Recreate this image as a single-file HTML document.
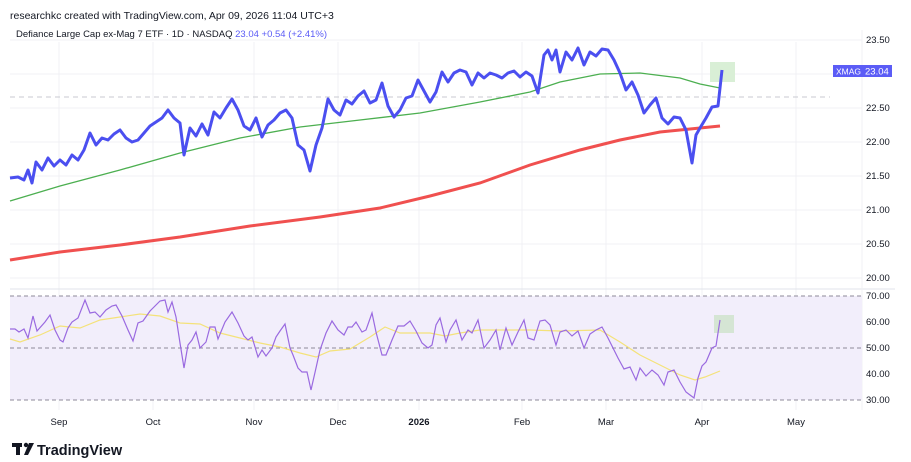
<!DOCTYPE html>
<html><head><meta charset="utf-8"><style>
body{margin:0;background:#fff;width:911px;height:462px;overflow:hidden;font-family:"Liberation Sans",sans-serif}
svg{position:absolute;left:0;top:0}
</style></head><body>
<svg width="911" height="462" viewBox="0 0 911 462" font-family="Liberation Sans, sans-serif">
<rect width="911" height="462" fill="#fff"/>
<text x="10" y="19" font-size="10.5" fill="#131722">researchkc created with TradingView.com, Apr 09, 2026 11:04 UTC+3</text>
<text x="16" y="37" font-size="9.5" fill="#131722">Defiance Large Cap ex-Mag 7 ETF · 1D · NASDAQ <tspan fill="#5b5cf6">23.04  +0.54 (+2.41%)</tspan></text>
<g stroke="#f0f1f4" stroke-width="1">
<line x1="59" y1="42" x2="59" y2="410"/><line x1="153" y1="42" x2="153" y2="410"/><line x1="254" y1="42" x2="254" y2="410"/><line x1="338" y1="42" x2="338" y2="410"/><line x1="419" y1="42" x2="419" y2="410"/><line x1="522" y1="42" x2="522" y2="410"/><line x1="606" y1="42" x2="606" y2="410"/><line x1="702" y1="42" x2="702" y2="410"/><line x1="796" y1="42" x2="796" y2="410"/>
<line x1="10" y1="40" x2="862" y2="40"/><line x1="10" y1="74" x2="862" y2="74"/><line x1="10" y1="108" x2="862" y2="108"/><line x1="10" y1="142" x2="862" y2="142"/><line x1="10" y1="176" x2="862" y2="176"/><line x1="10" y1="210" x2="862" y2="210"/><line x1="10" y1="244" x2="862" y2="244"/><line x1="10" y1="278" x2="862" y2="278"/>
</g>
<line x1="10" y1="289" x2="895" y2="289" stroke="#e0e3eb"/>
<line x1="862" y1="30" x2="862" y2="410" stroke="#f0f1f4"/>
<g font-size="9.5" fill="#131722" text-anchor="start">
<text x="866" y="43">23.50</text><text x="866" y="111">22.50</text><text x="866" y="145">22.00</text><text x="866" y="179">21.50</text><text x="866" y="213">21.00</text><text x="866" y="247">20.50</text><text x="866" y="281">20.00</text>
</g>
<rect x="833" y="65" width="29" height="12" fill="#5b5cf6"/><rect x="862" y="65" width="30" height="12" fill="#5b5cf6"/>
<text x="836" y="74.5" font-size="8.5" fill="#fff">XMAG</text><text x="865" y="74.5" font-size="9.5" fill="#fff">23.04</text>
<line x1="10" y1="97" x2="830" y2="97" stroke="#c8cad0" stroke-dasharray="5,4"/>
<rect x="710" y="62" width="25" height="20" fill="#d9efd6"/>
<polyline fill="none" stroke="#f0504f" stroke-width="3" points="10,260 60,252 120,245 180,237 250,226 320,217 380,208 430,196 480,183 530,165 580,150 620,140 660,132 700,128 720,126"/>
<polyline fill="none" stroke="#4caf50" stroke-width="1.3" points="10,201 60,186 120,170 180,153 240,138 300,127 360,120 420,113 480,102 530,92 560,82 600,74 640,73 680,78 700,84 720,88"/>
<polyline fill="none" stroke="#4b4ff0" stroke-width="3" stroke-linejoin="round" points="10,178 18,177 24,180 28,170 32,183 36,162 42,170 48,158 54,166 60,160 66,165 72,155 78,160 84,150 90,133 96,145 102,138 108,140 114,134 120,130 126,138 132,142 138,140 144,133 150,126 156,122 162,118 168,110 174,118 180,123 184,155 190,128 196,136 202,124 208,135 214,112 220,118 226,108 232,99 238,110 244,126 250,130 256,118 262,137 268,125 274,120 280,113 286,110 292,118 298,145 304,150 310,171 316,145 322,128 328,99 334,110 340,115 346,100 352,104 358,96 364,91 370,103 376,100 382,83 388,106 394,117 400,110 406,98 412,96 418,80 424,91 430,102 436,92 442,72 448,82 454,73 460,70 466,72 472,85 478,73 484,78 490,73 496,75 502,78 508,73 514,71 520,77 526,72 532,76 538,93 544,55 548,50 552,60 556,50 560,72 566,52 572,60 578,48 584,65 590,52 596,56 602,49 608,50 614,60 620,73 626,90 632,82 638,95 644,113 650,105 656,98 662,118 668,124 674,117 680,118 686,130 692,163 696,135 700,128 706,118 712,107 718,106 722,70"/>
<rect x="10" y="296" width="852" height="104" fill="#f2eefb"/>
<g stroke="#8e8a99" stroke-dasharray="4,3"><line x1="10" y1="296" x2="862" y2="296"/><line x1="10" y1="348" x2="862" y2="348"/><line x1="10" y1="400" x2="862" y2="400"/></g>
<g font-size="9.5" fill="#131722"><text x="866" y="299">70.00</text><text x="866" y="325">60.00</text><text x="866" y="351">50.00</text><text x="866" y="377">40.00</text><text x="866" y="403">30.00</text></g>
<rect x="714" y="315" width="20" height="18" fill="#d5e5d4"/>
<polyline fill="none" stroke="#f4e27a" stroke-width="1.2" points="10,339 20,342 40,335 60,326 80,328 100,320 120,317 140,314 160,316 180,323 200,324 220,333 240,338 260,343 280,347 300,353 316,357 330,351 350,349 370,337 385,327 400,333 430,333 445,336 460,333 480,330 500,330 530,330 560,331 600,330 620,342 640,355 660,365 680,375 695,380 705,377 720,371"/>
<polyline fill="none" stroke="#9a6ae0" stroke-width="1.2" points="10,329 15,329 19,332 24,329 28,338 33,316 37,331 45,322 50,315 55,330 60,340 63,342 68,328 72,322 78,318 85,300 90,313 95,312 100,317 106,310 112,306 116,305 122,316 128,330 133,341 138,323 143,321 150,311 155,306 160,301 165,300 168,312 172,302 176,317 180,343 184,368 188,345 192,340 196,332 200,348 206,342 210,327 215,327 218,339 225,322 232,312 238,323 244,336 248,340 252,337 258,357 262,350 266,356 272,348 276,337 280,331 285,324 290,348 293,355 298,368 302,372 307,372 311,390 316,368 320,350 326,333 332,321 338,330 344,335 348,327 352,327 356,322 362,332 366,330 372,313 376,332 382,355 386,355 392,340 398,326 404,326 410,321 416,331 422,343 428,348 432,345 436,325 440,318 446,342 450,330 456,320 462,340 468,330 472,333 478,320 484,348 490,340 496,330 500,350 506,328 512,345 518,332 524,320 528,338 534,340 540,321 545,320 550,325 556,345 560,332 566,330 572,336 578,331 584,348 590,334 596,330 602,327 608,338 612,346 618,358 624,369 630,367 636,380 640,368 646,376 652,370 658,375 664,385 668,372 674,370 680,382 686,392 690,395 694,398 698,378 702,366 706,362 712,348 716,346 720,320"/>
<g font-size="9.5" fill="#131722" text-anchor="middle">
<text x="59" y="425">Sep</text><text x="153" y="425">Oct</text><text x="254" y="425">Nov</text><text x="338" y="425">Dec</text><text x="419" y="425" font-weight="bold">2026</text><text x="522" y="425">Feb</text><text x="606" y="425">Mar</text><text x="702" y="425">Apr</text><text x="796" y="425">May</text>
</g>
<rect x="12" y="443" width="10" height="4" fill="#131722"/><rect x="16" y="443" width="4" height="12" fill="#131722"/><circle cx="26" cy="445" r="2.2" fill="#131722"/><polygon points="29,443 34,443 28,455 24,455" fill="#131722"/>
<text x="37" y="455" font-size="14.5" font-weight="bold" fill="#131722">TradingView</text>
</svg>
</body></html>
